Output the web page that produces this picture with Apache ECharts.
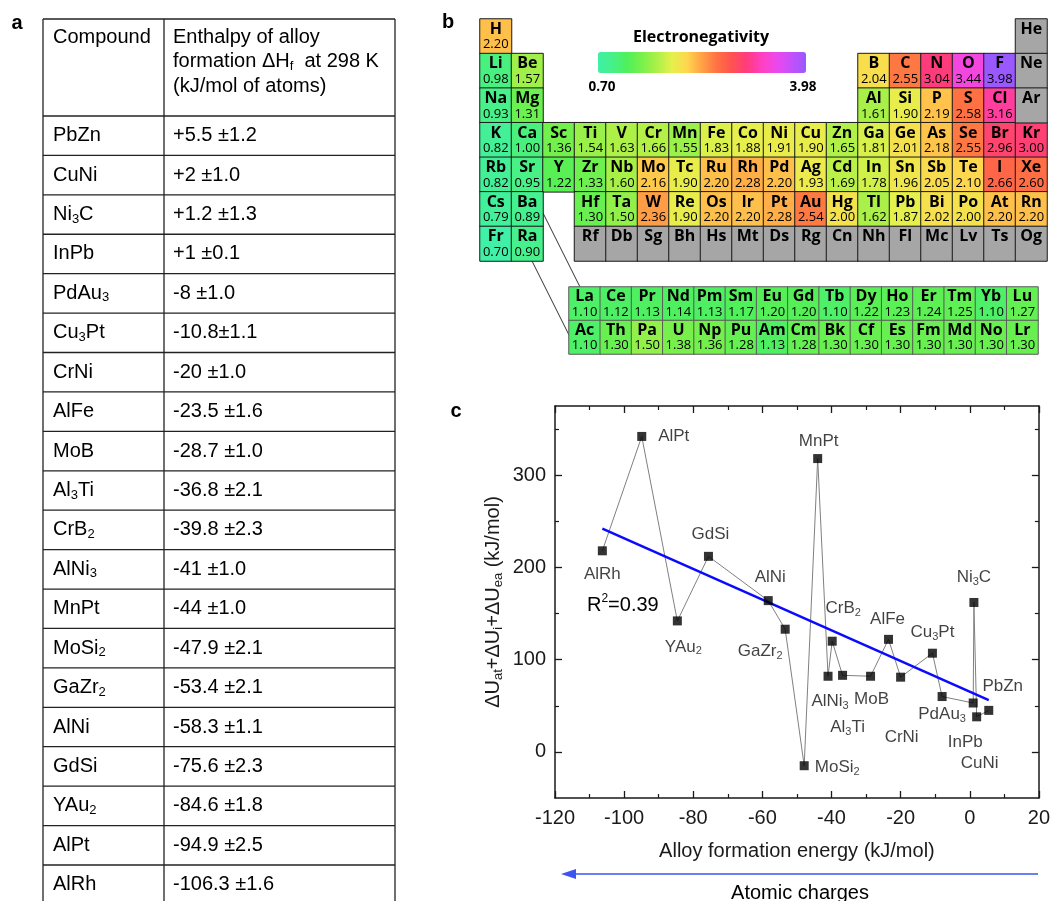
<!DOCTYPE html>
<html><head><meta charset="utf-8">
<script src="https://cdn.jsdelivr.net/npm/echarts@6/dist/echarts.min.js"></script>
<style>html,body{margin:0;padding:0;background:#fff}#c{width:1053px;height:901px}</style>
</head><body><div id="c"></div>
<script>
// ===================== DATA =====================
// (a) table
const tableHeader = ['Compound', 'Enthalpy of alloy', 'formation ΔH_{f}  at 298 K', '(kJ/mol of atoms)'];
const compounds = ['PbZn','CuNi','Ni_{3}C','InPb','PdAu_{3}','Cu_{3}Pt','CrNi','AlFe','MoB','Al_{3}Ti','CrB_{2}','AlNi_{3}','MnPt','MoSi_{2}','GaZr_{2}','AlNi','GdSi','YAu_{2}','AlPt','AlRh'];
const enthalpyText = ['+5.5 ±1.2','+2 ±1.0','+1.2 ±1.3','+1 ±0.1','-8 ±1.0','-10.8±1.1','-20 ±1.0','-23.5 ±1.6','-28.7 ±1.0','-36.8 ±2.1','-39.8 ±2.3','-41 ±1.0','-44 ±1.0','-47.9 ±2.1','-53.4 ±2.1','-58.3 ±1.1','-75.6 ±2.3','-84.6 ±1.8','-94.9 ±2.5','-106.3 ±1.6'];
// (c) scatter: x = enthalpy of formation, y = ΔUat+ΔUi+ΔUea
const enthalpy = [5.5, 2, 1.2, 1, -8, -10.8, -20, -23.5, -28.7, -36.8, -39.8, -41, -44, -47.9, -53.4, -58.3, -75.6, -84.6, -94.9, -106.3];
const deltaU   = [45, 38, 162, 53, 60, 107, 81, 122, 82, 83, 120, 82, 318, -15, 133, 164, 212, 142, 342, 218];
const fitX = [-106.3, 5.5];
const fitY = [242, 56];
const r2Value = '0.39';
const xTicks = [-120, -100, -80, -60, -40, -20, 0, 20];
const yMajor = [0, 100, 200, 300];
const yMinor = [50, 150, 250, 350];
// (b) periodic table (null = no value, grey cell; 0 = empty position)
const ptSymbols = [
 ['H','','','','','','','','','','','','','','','','','He'],
 ['Li','Be','','','','','','','','','','','B','C','N','O','F','Ne'],
 ['Na','Mg','','','','','','','','','','','Al','Si','P','S','Cl','Ar'],
 ['K','Ca','Sc','Ti','V','Cr','Mn','Fe','Co','Ni','Cu','Zn','Ga','Ge','As','Se','Br','Kr'],
 ['Rb','Sr','Y','Zr','Nb','Mo','Tc','Ru','Rh','Pd','Ag','Cd','In','Sn','Sb','Te','I','Xe'],
 ['Cs','Ba','','Hf','Ta','W','Re','Os','Ir','Pt','Au','Hg','Tl','Pb','Bi','Po','At','Rn'],
 ['Fr','Ra','','Rf','Db','Sg','Bh','Hs','Mt','Ds','Rg','Cn','Nh','Fl','Mc','Lv','Ts','Og']
];
const ptEN = [
 [2.20,0,0,0,0,0,0,0,0,0,0,0,0,0,0,0,0,null],
 [0.98,1.57,0,0,0,0,0,0,0,0,0,0,2.04,2.55,3.04,3.44,3.98,null],
 [0.93,1.31,0,0,0,0,0,0,0,0,0,0,1.61,1.90,2.19,2.58,3.16,null],
 [0.82,1.00,1.36,1.54,1.63,1.66,1.55,1.83,1.88,1.91,1.90,1.65,1.81,2.01,2.18,2.55,2.96,3.00],
 [0.82,0.95,1.22,1.33,1.60,2.16,1.90,2.20,2.28,2.20,1.93,1.69,1.78,1.96,2.05,2.10,2.66,2.60],
 [0.79,0.89,0,1.30,1.50,2.36,1.90,2.20,2.20,2.28,2.54,2.00,1.62,1.87,2.02,2.00,2.20,2.20],
 [0.70,0.90,0,null,null,null,null,null,null,null,null,null,null,null,null,null,null,null]
];
const lanthSymbols = ['La','Ce','Pr','Nd','Pm','Sm','Eu','Gd','Tb','Dy','Ho','Er','Tm','Yb','Lu'];
const lanthEN = [1.10,1.12,1.13,1.14,1.13,1.17,1.20,1.20,1.10,1.22,1.23,1.24,1.25,1.10,1.27];
const actSymbols = ['Ac','Th','Pa','U','Np','Pu','Am','Cm','Bk','Cf','Es','Fm','Md','No','Lr'];
const actEN = [1.10,1.30,1.50,1.38,1.36,1.28,1.13,1.28,1.30,1.30,1.30,1.30,1.30,1.30,1.30];
const enMin = 0.70, enMax = 3.98;
const enColors = ['#3ff0a6','#47f088','#4ff05a','#7cf04a','#aef048','#e6f04c','#ffd64e','#ffa046','#ff7242','#ff5252','#ff3c7c','#ff40c0','#ee48ec','#c450fa','#9a58ff'];

// label placement (style, kept apart from data): offset of label centre from point centre
const labelOffsets = {
 'AlRh':[0,24],'AlPt':[32,0],'YAu_{2}':[6,26],'GdSi':[2,-22],'AlNi':[2,-23],'GaZr_{2}':[-25,22],
 'MoSi_{2}':[33,2],'MnPt':[1,-17],'CrB_{2}':[11,-33],'AlNi_{3}':[2,25],'Al_{3}Ti':[5,52],'MoB':[1,23],
 'AlFe':[-1,-20],'CrNi':[1,60],'Cu_{3}Pt':[0,-21],'PdAu_{3}':[0,18],'InPb':[-8,39],'CuNi':[3,46],
 'PbZn':[14,-24],'Ni_{3}C':[0,-25]
};

// ===================== BUILD =====================
const FONT = '"Liberation Sans", Arial, sans-serif';
const PTFONT = '"Open Sans", sans-serif';
const INK = '#1a1a1a';

function subRich(s, n, sub) {
  const parts = s.split(/_\{([^}]*)\}/);
  let out = '';
  parts.forEach((p, i) => { if (p === '') return; out += '{' + (i % 2 ? sub : n) + '|' + p + '}'; });
  return out;
}

const chart = echarts.init(document.getElementById('c'), null, {renderer: 'canvas', width: 1053, height: 901});

// periodic table heatmap data
const mainData = [], greyData = [];
ptSymbols.forEach((row, r) => row.forEach((sym, c) => {
  if (!sym) return;
  const v = ptEN[r][c];
  if (v == null) greyData.push({name: sym, value: [c, r, -1]});
  else mainData.push({name: sym, value: [c, r, v]});
}));
const lanData = [];
lanthSymbols.forEach((s, c) => lanData.push({name: s, value: [c, 0, lanthEN[c]]}));
actSymbols.forEach((s, c) => lanData.push({name: s, value: [c, 1, actEN[c]]}));

const cellLabel = {
  show: true,
  formatter: p => '{s|' + p.name + '}\n{v|' + (p.value[2] >= 0 ? p.value[2].toFixed(2) : ' ') + '}',
  rich: {
    s: {fontFamily: PTFONT, fontWeight: 'bold', fontSize: 16, lineHeight: 17, color: '#000'},
    v: {fontFamily: PTFONT, fontSize: 13, lineHeight: 14, color: '#000'}
  }
};

const hideAxis = {show: true, axisLine: {show: false}, axisTick: {show: false}, axisLabel: {show: false}, splitLine: {show: false}};

const scatterData = compounds.map((c, i) => ({
  name: c, value: [enthalpy[i], deltaU[i]],
  label: {offset: labelOffsets[c] || [0, 0]}
}));
const pathData = compounds.map((c, i) => [enthalpy[i], deltaU[i]]);
const fitData = fitX.map((x, i) => [x, fitY[i]]);

const axisLineStyle = {color: INK, width: 1.5};
const xBase = {
  type: 'value', gridIndex: 2, min: xTicks[0], max: xTicks[xTicks.length - 1], interval: 20,
  axisLine: {show: true, onZero: false, lineStyle: axisLineStyle},
  axisTick: {show: true, inside: true, length: 7, lineStyle: {color: INK, width: 1.3}},
  minorTick: {show: true, splitNumber: 2, length: 4, lineStyle: {color: INK, width: 1.2}},
  splitLine: {show: false}, minorSplitLine: {show: false}
};
const yBase = {
  type: 'value', gridIndex: 2, min: -50, max: 375,
  axisLine: {show: true, onZero: false, lineStyle: axisLineStyle},
  axisTick: {show: true, inside: true, length: 7, customValues: yMajor, lineStyle: {color: INK, width: 1.3}},
  splitLine: {show: false}
};
const yMinorBase = {
  type: 'value', gridIndex: 2, min: -50, max: 375,
  axisLine: {show: false, onZero: false},
  axisTick: {show: true, inside: true, length: 4, customValues: yMinor, lineStyle: {color: INK, width: 1.2}},
  axisLabel: {show: false, customValues: yMinor},
  splitLine: {show: false}
};

// graphic: table (a)
const graphic = [];
const tL = 43, tC = 164, tR = 395, tTop = 19, tHead = 116, rowH = 39.42;
const tBottom = tHead + compounds.length * rowH;
const tblRich = {
  n: {fontFamily: FONT, fontSize: 20, color: '#1a1a1a', lineHeight: 22},
  s: {fontFamily: FONT, fontSize: 13, color: '#1a1a1a', lineHeight: 10, verticalAlign: 'bottom'}
};
function line(x1, y1, x2, y2, color, w) {
  graphic.push({type: 'line', silent: true, shape: {x1, y1, x2, y2}, style: {stroke: color, lineWidth: w}});
}
function text(x, y, str, rich, align, extra) {
  graphic.push({type: 'text', silent: true, x: x, y: y,
    style: Object.assign({text: str, rich: rich, align: align || 'left', verticalAlign: 'middle'}, extra || {})});
}
line(tL, tTop, tR, tTop, '#222', 1.3);
line(tL, tHead, tR, tHead, '#222', 1.3);
for (let i = 1; i <= compounds.length; i++) line(tL, tHead + i * rowH, tR, tHead + i * rowH, '#222', 1.3);
line(tL, tTop, tL, tBottom, '#222', 1.3);
line(tC, tTop, tC, tBottom, '#222', 1.3);
line(tR, tTop, tR, tBottom, '#222', 1.3);
text(53, 37, subRich(tableHeader[0], 'n', 's'), tblRich);
for (let k = 1; k < tableHeader.length; k++) text(173, 37 + (k - 1) * 24.5, subRich(tableHeader[k], 'n', 's'), tblRich);
compounds.forEach((c, i) => {
  const yc = tHead + i * rowH + rowH / 2;
  text(53, yc, subRich(c, 'n', 's'), tblRich);
  text(173, yc, '{n|' + enthalpyText[i] + '}', tblRich);
});
// panel letters
const boldRich = {b: {fontFamily: FONT, fontSize: 20, fontWeight: 'bold', color: '#000'}};
text(17, 23, '{b|a}', boldRich, 'center');
text(448, 22, '{b|b}', boldRich, 'center');
text(456, 411, '{b|c}', boldRich, 'center');
// colorbar texts
text(701, 37, '{t|Electronegativity}', {t: {fontFamily: PTFONT, fontSize: 16, fontWeight: 'bold', color: '#000'}}, 'center');
text(602, 87, '{t|' + enMin.toFixed(2) + '}', {t: {fontFamily: PTFONT, fontSize: 13.5, fontWeight: 'bold', color: '#000'}}, 'center');
text(803, 87, '{t|' + enMax.toFixed(2) + '}', {t: {fontFamily: PTFONT, fontSize: 13.5, fontWeight: 'bold', color: '#000'}}, 'center');
// lanthanide connectors
line(543, 213, 580, 287, '#333', 1);
line(532, 261, 569, 335, '#333', 1);
// R^2 label
const blueRich = {
  a: {fontFamily: FONT, fontSize: 20, color: '#1f1fff', lineHeight: 24},
  p: {fontFamily: FONT, fontSize: 12, color: '#1f1fff', lineHeight: 10, verticalAlign: 'top'}
};
text(587, 605, '{a|R}{p|2}{a|=' + r2Value + '}', blueRich);
// atomic charges arrow
line(570, 874, 1038, 874, '#3d55f0', 1.5);
graphic.push({type: 'polygon', silent: true, shape: {points: [[561, 874], [576, 869], [576, 879]]}, style: {fill: '#3d55f0'}});
text(800, 893, '{a|Atomic charges}', {a: {fontFamily: FONT, fontSize: 20, color: '#3d55f0'}}, 'center');

const option = {
  animation: false,
  backgroundColor: '#fff',
  textStyle: {fontFamily: FONT},
  grid: [
    {left: 480, top: 19, width: 567, height: 242},
    {left: 569, top: 287, width: 469, height: 67},
    {left: 555, top: 406, width: 487, height: 392}
  ],
  xAxis: [
    Object.assign({type: 'category', gridIndex: 0, data: ptSymbols[0].map((_, i) => i)}, hideAxis),
    Object.assign({type: 'category', gridIndex: 1, data: lanthSymbols.map((_, i) => i)}, hideAxis),
    Object.assign({}, xBase, {position: 'bottom',
      axisLabel: {show: true, fontSize: 20, color: INK, margin: 10, fontFamily: FONT},
      name: 'Alloy formation energy (kJ/mol)', nameLocation: 'middle', nameGap: 43,
      nameTextStyle: {fontSize: 20, color: INK, fontFamily: FONT}}),
    Object.assign({}, xBase, {position: 'top', axisLabel: {show: false}})
  ],
  yAxis: [
    Object.assign({type: 'category', gridIndex: 0, inverse: true, data: ptSymbols.map((_, i) => i)}, hideAxis),
    Object.assign({type: 'category', gridIndex: 1, inverse: true, data: [0, 1]}, hideAxis),
    Object.assign({}, yBase, {position: 'left',
      axisLabel: {show: true, customValues: yMajor, fontSize: 20, color: INK, margin: 9, fontFamily: FONT},
      name: '{n|ΔU}{s|at}{n|+ΔU}{s|i}{n|+ΔU}{s|ea}{n| (kJ/mol)}', nameLocation: 'middle', nameGap: 50, nameRotate: 90,
      nameTextStyle: {rich: {
        n: {fontSize: 20, color: INK, fontFamily: FONT, lineHeight: 24},
        s: {fontSize: 13, color: INK, fontFamily: FONT, lineHeight: 11, verticalAlign: 'bottom'}
      }}}),
    Object.assign({}, yMinorBase, {position: 'left'}),
    Object.assign({}, yBase, {position: 'right', axisLabel: {show: false, customValues: yMajor}}),
    Object.assign({}, yMinorBase, {position: 'right'})
  ],
  visualMap: {
    type: 'continuous', seriesIndex: [0, 1], min: enMin, max: enMax,
    orient: 'horizontal', left: 598, top: 52, itemWidth: 21, itemHeight: 208,
    calculable: false, realtime: false, hoverLink: false, padding: 0, text: null, showLabel: false,
    inRange: {color: enColors}
  },
  series: [
    {type: 'heatmap', xAxisIndex: 0, yAxisIndex: 0, data: mainData,
     itemStyle: {borderColor: '#1a1a1a', borderWidth: 1}, label: cellLabel, emphasis: {disabled: true}},
    {type: 'heatmap', xAxisIndex: 1, yAxisIndex: 1, data: lanData,
     itemStyle: {borderColor: '#5a5a5a', borderWidth: 1}, label: cellLabel, emphasis: {disabled: true}},
    {type: 'heatmap', xAxisIndex: 0, yAxisIndex: 0, data: greyData,
     itemStyle: {color: '#a6a6a6', borderColor: '#1a1a1a', borderWidth: 1}, label: cellLabel, emphasis: {disabled: true}},
    {type: 'line', xAxisIndex: 2, yAxisIndex: 2, data: pathData, symbol: 'none', silent: true,
     lineStyle: {color: '#808080', width: 1}, z: 2},
    {type: 'line', xAxisIndex: 2, yAxisIndex: 2, data: fitData, symbol: 'none', silent: true,
     lineStyle: {color: '#0a0aff', width: 2.5}, z: 3},
    {type: 'scatter', xAxisIndex: 2, yAxisIndex: 2, data: scatterData, symbol: 'rect', symbolSize: 9,
     itemStyle: {color: '#000'}, z: 4,
     label: {show: true, position: 'inside', color: '#111',
       formatter: p => subRich(p.name, 'n', 's'),
       rich: {
         n: {fontFamily: FONT, fontSize: 17, color: '#111', lineHeight: 20},
         s: {fontFamily: FONT, fontSize: 11, color: '#111', lineHeight: 9, verticalAlign: 'bottom'}
       }},
     emphasis: {disabled: true}}
  ],
  graphic: graphic
};
chart.setOption(option);
</script>
</body></html>
